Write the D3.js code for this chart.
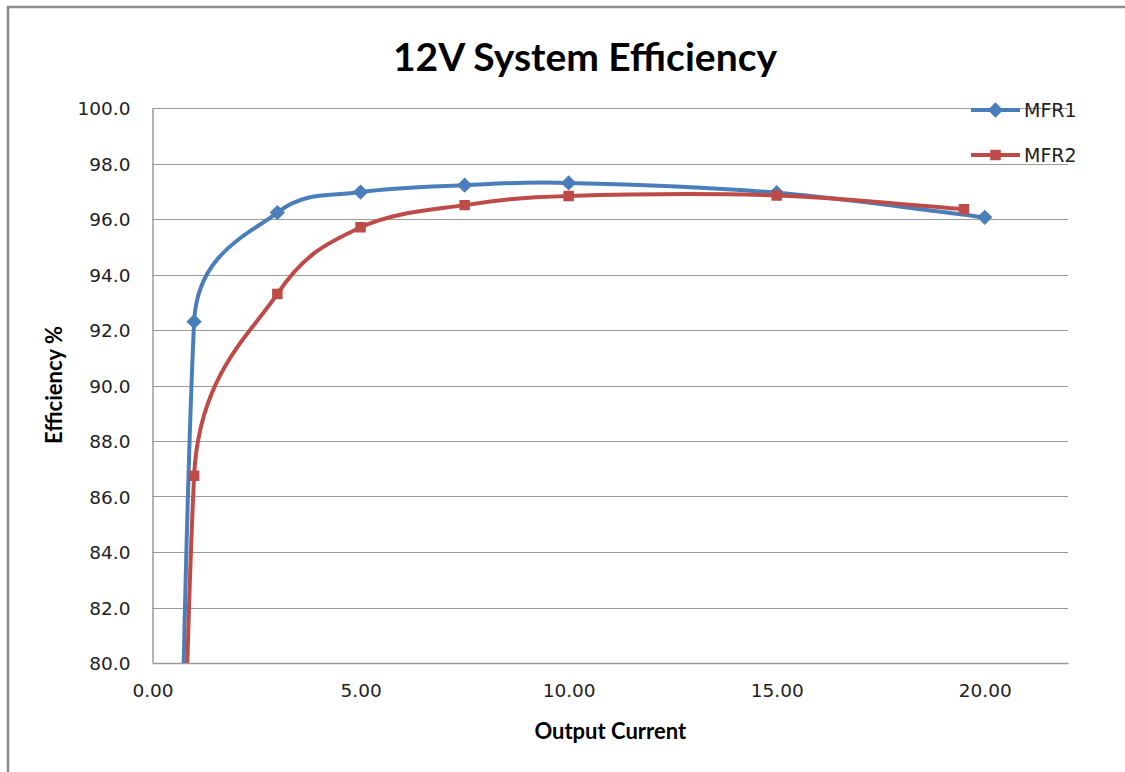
<!DOCTYPE html>
<html>
<head>
<meta charset="utf-8">
<script src="https://cdn.jsdelivr.net/npm/d3@7"></script>
<style>
  body { margin: 0; background: #fff; }
  svg { display: block; }
</style>
</head>
<body>
<svg width="1125" height="772"></svg>
<script>
var svg = d3.select("svg"),
    width = +svg.attr("width"),
    height = +svg.attr("height");

// data (x = output current, y = efficiency %)
// the (0, 0) point sits below the visible range; only its curve shows
var mfr1X = [0, 1, 3, 5, 7.5, 10, 15, 20];
var mfr1Y = [0, 92.3, 96.23, 96.97, 97.22, 97.3, 96.95, 96.06];
var mfr2X = [0, 1, 3, 5, 7.5, 10, 15, 19.5];
var mfr2Y = [0, 86.75, 93.3, 95.7, 96.5, 96.83, 96.85, 96.35];

var seriesNames = ["MFR1", "MFR2"];
var seriesColors = ["#4a7ebb", "#be4b48"];
var xTicks = [0, 5, 10, 15, 20];
var yTicks = [80, 82, 84, 86, 88, 90, 92, 94, 96, 98, 100];

var series = [
    { name: seriesNames[0], color: seriesColors[0], shape: "diamond", values: mfr1X.map((x, i) => [x, mfr1Y[i]]) },
    { name: seriesNames[1], color: seriesColors[1], shape: "square", values: mfr2X.map((x, i) => [x, mfr2Y[i]]) }
];

var plot = { left: 152.5, right: 1068, top: 108, bottom: 663 };

var x = d3.scaleLinear()
    .domain([0, 22])
    .range([plot.left, plot.right]);

var y = d3.scaleLinear()
    .domain([80, 100])
    .range([plot.bottom, plot.top]);

// spreadsheet-style smoothed line: bezier handles at 1/6 of the
// neighbour chord, but never longer than half the segment
function ExcelSmooth(context) { this._context = context; }
ExcelSmooth.prototype = {
    areaStart: function() {},
    areaEnd: function() {},
    lineStart: function() { this._pts = []; },
    point: function(x, y) { this._pts.push([+x, +y]); },
    lineEnd: function() {
        var p = this._pts, c = this._context, n = p.length;
        if (!n) return;
        c.moveTo(p[0][0], p[0][1]);
        var dist = (a, b) => Math.hypot(b[0] - a[0], b[1] - a[1]);
        for (var i = 0; i < n - 1; i++) {
            var p0 = p[Math.max(i - 1, 0)], p1 = p[i], p2 = p[i + 1], p3 = p[Math.min(i + 2, n - 1)];
            var d02 = dist(p0, p2), d12 = dist(p1, p2), d13 = dist(p1, p3);
            var f1 = d02 / 6 < d12 / 2 ? 1 / 6 : d12 / 2 / d02;
            var f2 = d13 / 6 < d12 / 2 ? 1 / 6 : d12 / 2 / d13;
            c.bezierCurveTo(
                p1[0] + (p2[0] - p0[0]) * f1, p1[1] + (p2[1] - p0[1]) * f1,
                p2[0] - (p3[0] - p1[0]) * f2, p2[1] - (p3[1] - p1[1]) * f2,
                p2[0], p2[1]);
        }
    }
};
function curveExcel(context) { return new ExcelSmooth(context); }

// outer chart border (only left and top edges are in frame)
svg.append("path")
    .attr("d", "M8,772V7H1125")
    .attr("fill", "none")
    .attr("stroke", "#8c8c8c")
    .attr("stroke-width", 2.5);

// title
svg.append("text")
    .attr("x", 585)
    .attr("y", 71)
    .attr("text-anchor", "middle")
    .style("font-family", "Lato, 'Open Sans', sans-serif")
    .style("font-weight", "bold")
    .style("font-size", "39px")
    .text("12V System Efficiency");

// gridlines
svg.append("g")
    .attr("class", "grid")
    .selectAll("line")
    .data(yTicks.filter(d => d > 80))
    .enter().append("line")
    .attr("x1", plot.left)
    .attr("x2", plot.right)
    .attr("y1", d => Math.round(y(d)) + 0.5)
    .attr("y2", d => Math.round(y(d)) + 0.5)
    .attr("stroke", "#9a9a9a")
    .attr("stroke-width", 1.2);

// y axis
var yAxis = svg.append("g")
    .attr("transform", "translate(" + plot.left + ",0)")
    .call(d3.axisLeft(y).tickValues(yTicks).tickFormat(d3.format(".1f")).tickSize(0).tickPadding(22));
yAxis.select(".domain").attr("stroke", "#9a9a9a").attr("stroke-width", 1.5);
yAxis.selectAll("text")
    .attr("dy", "0.36em")
    .style("font-family", "'DejaVu Sans', Verdana, sans-serif")
    .style("font-size", "18.5px")
    .attr("fill", "#222");

// x axis
var xAxis = svg.append("g")
    .attr("transform", "translate(0," + plot.bottom + ")")
    .call(d3.axisBottom(x).tickValues(xTicks).tickFormat(d3.format(".2f")).tickSize(0).tickPadding(21));
xAxis.select(".domain").attr("stroke", "#9a9a9a").attr("stroke-width", 1.5);
xAxis.selectAll("text")
    .style("font-family", "'DejaVu Sans', Verdana, sans-serif")
    .style("font-size", "18.5px")
    .attr("fill", "#222");

// axis titles
svg.append("text")
    .attr("transform", "translate(62,385) rotate(-90)")
    .attr("text-anchor", "middle")
    .style("font-family", "Lato, 'Open Sans', sans-serif")
    .style("font-weight", "bold")
    .style("font-size", "22px")
    .text("Efficiency %");

svg.append("text")
    .attr("x", (plot.left + plot.right) / 2)
    .attr("y", 739)
    .attr("text-anchor", "middle")
    .style("font-family", "Lato, 'Open Sans', sans-serif")
    .style("font-weight", "bold")
    .style("font-size", "22px")
    .text("Output Current");

// clip to plot area
svg.append("clipPath")
    .attr("id", "plot-clip")
    .append("rect")
    .attr("x", plot.left)
    .attr("y", plot.top - 10)
    .attr("width", plot.right - plot.left + 10)
    .attr("height", plot.bottom - plot.top + 10);

var line = d3.line()
    .x(d => x(d[0]))
    .y(d => y(d[1]))
    .curve(curveExcel);

var symbolFor = {
    diamond: d3.symbol().type(d3.symbolDiamond2).size(150),
    square: d3.symbol().type(d3.symbolSquare).size(110)
};

var lines = svg.append("g").attr("clip-path", "url(#plot-clip)");

var s = lines.selectAll(".series")
    .data(series)
    .enter().append("g")
    .attr("class", "series");

s.append("path")
    .attr("d", d => line(d.values))
    .attr("fill", "none")
    .attr("stroke", d => d.color)
    .attr("stroke-width", 4)
    .attr("stroke-linejoin", "round");

s.each(function(d) {
    d3.select(this).selectAll(".marker")
        .data(d.values)
        .enter().append("path")
        .attr("class", "marker")
        .attr("transform", p => "translate(" + x(p[0]) + "," + y(p[1]) + ")")
        .attr("d", symbolFor[d.shape]())
        .attr("fill", d.color);
});

// legend
var legend = svg.append("g")
    .selectAll("g")
    .data(series)
    .enter().append("g")
    .attr("transform", (d, i) => "translate(971," + (110 + i * 45) + ")");

legend.append("line")
    .attr("x1", 0)
    .attr("x2", 49)
    .attr("stroke", d => d.color)
    .attr("stroke-width", 4);

legend.append("path")
    .attr("transform", "translate(24.5,0)")
    .attr("d", d => symbolFor[d.shape]())
    .attr("fill", d => d.color);

legend.append("text")
    .attr("x", 53)
    .attr("dy", "0.36em")
    .style("font-family", "'DejaVu Sans', Verdana, sans-serif")
    .style("font-size", "19px")
    .attr("fill", "#222")
    .text(d => d.name);
</script>
</body>
</html>
